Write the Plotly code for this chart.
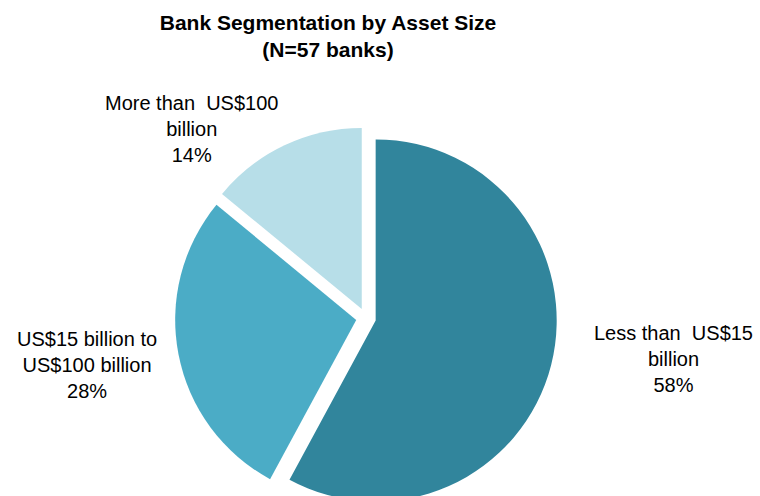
import plotly.graph_objects as go

# Bank counts by asset-size segment (N = 57)
segments = ["Less than US$15 billion", "US$15 billion to US$100 billion", "More than US$100 billion"]
bank_counts = [33, 16, 8]
slice_colors = ["#31859C", "#4BACC6", "#B7DEE8"]

# label text shown beside each slice
label_lines = [
    ["Less than  US$15", "billion"],
    ["US$15 billion to", "US$100 billion"],
    ["More than  US$100", "billion"],
]
label_xy = [(673, 359), (87, 365), (191, 129)]  # pixel centres

W, H = 760, 510
total = sum(bank_counts)

fig = go.Figure(
    go.Pie(
        labels=segments,
        values=bank_counts,
        sort=False,
        direction="clockwise",
        rotation=0,
        pull=[0.055, 0.055, 0.055],
        marker=dict(colors=slice_colors, line=dict(width=0)),
        textinfo="none",
        hoverinfo="label+percent",
        showlegend=False,
        domain=dict(x=[175 / W, 557 / W], y=[1 - 509 / H, 1 - 127 / H]),
    )
)

for lines, count, (px, py) in zip(label_lines, bank_counts, label_xy):
    pct = f"{round(100 * count / total)}%"
    fig.add_annotation(
        text="<br>".join(lines + [pct]),
        x=px / W, y=1 - py / H, xref="paper", yref="paper",
        xanchor="center", yanchor="middle", showarrow=False,
        font=dict(family="Liberation Sans, Arial, sans-serif", size=20, color="#000000"),
    )

fig.update_layout(
    width=W, height=H,
    margin=dict(l=0, r=0, t=0, b=0),
    paper_bgcolor="white", plot_bgcolor="white",
    title=dict(
        text="<b>Bank Segmentation by Asset Size<br>(N=57 banks)</b>",
        x=328 / W, xanchor="center", y=1 - 30 / H, yanchor="middle",
        font=dict(family="Liberation Sans, Arial, sans-serif", size=21, color="#000000"),
    ),
)

fig.write_html("out.html")
